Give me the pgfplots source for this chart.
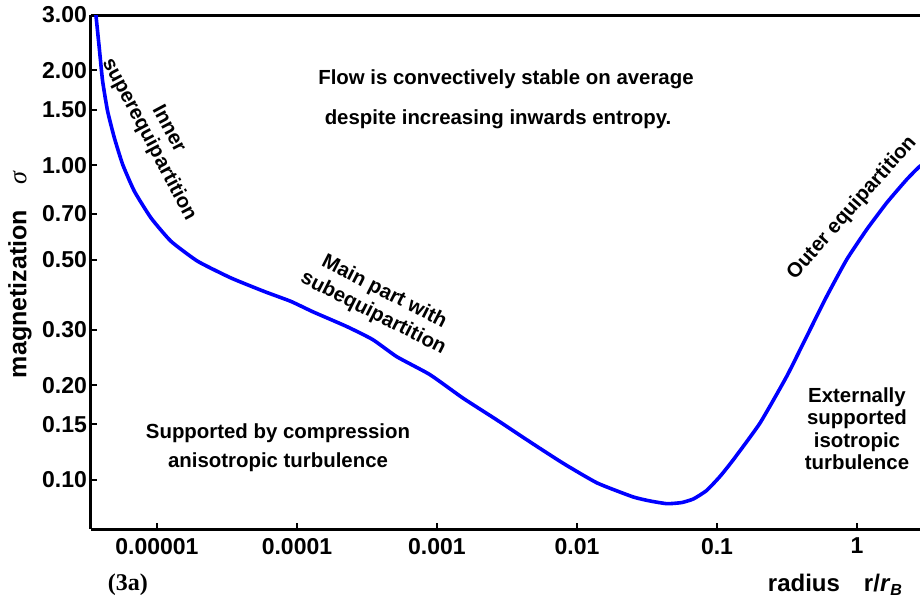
\documentclass[border=0pt]{standalone}
\usepackage{pgfplots}
\pgfplotsset{compat=1.18}
\usepackage{fontspec}
\setmainfont{Liberation Sans}
\newfontfamily\seriffont{Liberation Serif}
\definecolor{curveblue}{RGB}{0,0,255}

\begin{document}
\begin{tikzpicture}
\begin{axis}[
    scale only axis, width=414.5pt, height=257pt,
    xmode=log, ymode=log,
    xmin=3.379e-6, xmax=2.818, ymin=0.0698, ymax=3.0,
    axis x line=box, axis y line=left,
    axis line style={-, line width=1.5pt, black},
    xtick pos=bottom, ytick pos=left,
    tick align=inside, major tick length=3pt,
    tick style={line width=1pt, black},
    xminorticks=false, yminorticks=false,
    xtick={1e-5,1e-4,1e-3,1e-2,1e-1,1},
    xticklabels={0.00001,0.0001,0.001,0.01,0.1,1},
    ytick={0.1,0.15,0.2,0.3,0.5,0.7,1,1.5,2,3},
    yticklabels={0.10,0.15,0.20,0.30,0.50,0.70,1.00,1.50,2.00,3.00},
    ticklabel style={font=\bfseries\fontsize{11.5}{13}\selectfont},
    yticklabel style={xshift=1.5pt},
    xticklabel style={yshift=-1pt},
    clip mode=individual,
]
\addplot[color=curveblue, line width=1.8pt, smooth, tension=0.3] coordinates {
(3.55e-6,3.48)(3.66e-6,3.02)(3.87e-6,2.364)(4.09e-6,1.851)(4.44e-6,1.485)
(4.96e-6,1.222)(5.69e-6,1.005)(6.89e-6,0.827)(9.06e-6,0.680)(1.259e-5,0.573)
(1.953e-5,0.495)(3.38e-5,0.438)(5.83e-5,0.397)(9.06e-5,0.369)
(1.30e-4,0.342)(2.27e-4,0.307)(3.48e-4,0.279)(5.18e-4,0.246)(8.9e-4,0.216)
(1.53e-3,0.182)(2.68e-3,0.155)(4.62e-3,0.132)(7.94e-3,0.113)(0.0139,0.0978)
(0.0251,0.0883)(0.0332,0.0857)(0.0440,0.0840)(0.0560,0.0847)(0.0680,0.0870)
(0.0843,0.0925)(0.1050,0.1025)(0.1307,0.1158)(0.2028,0.1515)(0.3147,0.2132)(0.4373,0.2857)
(0.6076,0.3830)(0.8441,0.5012)(1.173,0.6244)(1.630,0.7592)(2.265,0.9005)
(2.818,0.9927)(3.2,1.02)
};
\coordinate (bbsw) at ([xshift=-45.5pt,yshift=-38pt]rel axis cs:0,0);
\coordinate (bbne) at ([yshift=7.5pt]rel axis cs:1,1);

\begin{scope}[every node/.style={font=\bfseries\fontsize{10.2}{11.2}\selectfont, align=center}]
\node at (rel axis cs:0.5006,0.875) {Flow is convectively stable on average};
\node at (rel axis cs:0.491,0.798) {despite increasing inwards entropy.};
\node at (rel axis cs:0.2256,0.187) {Supported by compression};
\node at (rel axis cs:0.2256,0.130) {anisotropic turbulence};
\node at (rel axis cs:0.924,0.1955) {Externally\\supported\\isotropic\\turbulence};
\node[rotate=48.5] at (rel axis cs:0.918,0.6245) {Outer equipartition};
\node[rotate=-62, font=\bfseries\fontsize{10.2}{11}\selectfont] at (rel axis cs:0.0814,0.7675) {Inner\\superequipartition};
\node[rotate=-27, font=\bfseries\fontsize{10.2}{12}\selectfont] at (rel axis cs:0.347,0.44) {Main part with\\subequipartition};
\end{scope}

\node[rotate=90, font=\bfseries\fontsize{12.5}{14}\selectfont] at ([xshift=-35.5pt]rel axis cs:0,0.494)
  {magnetization\quad{\seriffont\mdseries\itshape\fontsize{13}{14}\selectfont σ}};
\node[anchor=east, font=\bfseries\fontsize{12}{14}\selectfont] at ([yshift=-28pt]rel axis cs:0.988,0)
  {radius\quad r/\textit{r}\textsubscript{\textit{B}}};
\node[font=\seriffont\bfseries\fontsize{12}{14}\selectfont] at ([yshift=-28pt]rel axis cs:0.0446,0) {(3a)};
\end{axis}
\pgfresetboundingbox
\path[use as bounding box] (bbsw) rectangle (bbne);
\end{tikzpicture}
\end{document}
